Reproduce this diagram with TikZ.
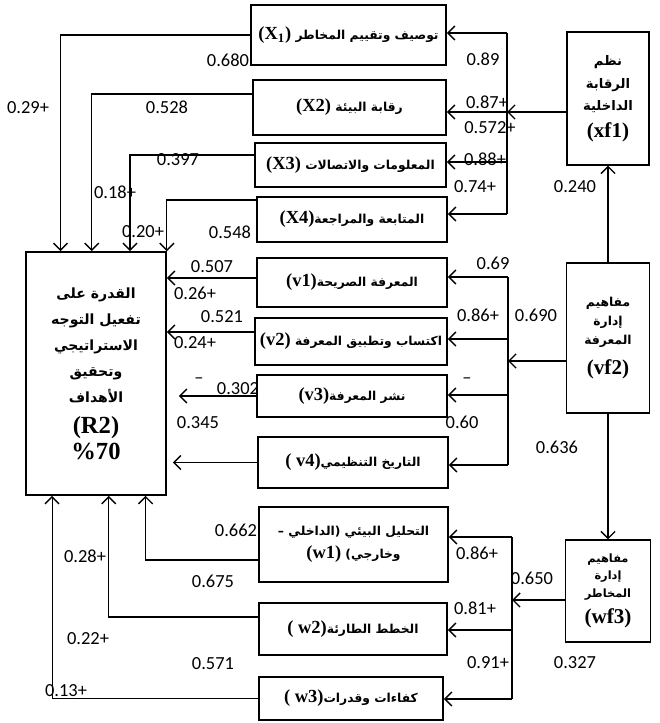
\documentclass[tikz,border=0pt]{standalone}
\usepackage{fontspec}
\setmainfont{Liberation Serif}
\newfontfamily\arabicfont[Script=Arabic]{DejaVu Sans}
\newfontfamily\numfont{Carlito}
\usetikzlibrary{arrows.meta,calc}
\TeXXeTstate=1
\newcommand{\artxt}[1]{{\arabicfont\bfseries\beginR #1\endR}}
\newcommand{\lattxt}[1]{\beginL{\rmfamily\bfseries\fontsize{10.5}{12}\selectfont #1}\endL}

\begin{document}
\begin{tikzpicture}[x=0.02cm, y=-0.02cm,
	box/.style={draw, line width=1pt, inner sep=1pt, align=center, font=\fontsize{7}{11}\selectfont},
	side/.style={box, line width=0.6pt, minimum width=1.64cm},
	num/.style={font=\numfont\fontsize{10.5}{12}\selectfont, inner sep=0pt},
	link/.style={line width=0.6pt},
	arr/.style={link, -{Straight Barb[length=4pt,width=8pt,line width=0.8pt]}}]

	\useasboundingbox (0,0) rectangle (659,723);

	\node [box, minimum width=2.8cm, minimum height=4.86cm, font=\fontsize{8}{14.8}\selectfont] (R2) at (96,373.5)
		{\artxt{القدرة على}\\ \artxt{تفعيل التوجه}\\ \artxt{الاستراتيجي}\\ \artxt{وتحقيق}\\ \artxt{الأهداف}\\[3pt]
		{\bfseries\fontsize{14}{16}\selectfont (R2)}\\ {\bfseries\fontsize{14}{16}\selectfont \%70}};

	\node [box, minimum width=3.9cm, minimum height=1.2cm] (X1) at (348.5,35) {\artxt{توصيف وتقييم المخاطر \lattxt{(X\textsubscript{1})}}};
	\node [box, minimum width=3.86cm, minimum height=1.1cm] (X2) at (349.5,107.5) {\artxt{رقابة البيئة \lattxt{(X2)}}};
	\node [box, minimum width=3.82cm, minimum height=0.88cm] (X3) at (350.5,165) {\artxt{المعلومات والاتصالات \lattxt{(X3)}}};
	\node [box, minimum width=3.8cm, minimum height=0.9cm] (X4) at (352,219.5) {\artxt{المتابعة والمراجعة\lattxt{(X4)}}};
	\node [box, minimum width=3.8cm, minimum height=0.98cm] (v1) at (352,282.5) {\artxt{المعرفة الصريحة\lattxt{(v1)}}};
	\node [box, minimum width=3.84cm, minimum height=0.94cm] (v2) at (351,341.5) {\artxt{اكتساب وتطبيق المعرفة \lattxt{(v2)}}};
	\node [box, minimum width=3.8cm, minimum height=0.84cm] (v3) at (352,396) {\artxt{نشر المعرفة\lattxt{(v3)}}};
	\node [box, minimum width=3.8cm, minimum height=1.02cm] (v4) at (353,462.5) {\artxt{التاريخ التنظيمي\lattxt{( v4)}}};
	\node [box, minimum width=3.78cm, minimum height=1.5cm] (w1) at (353.5,544.5) {\artxt{التحليل البيئي (الداخلي –}\\[2pt] \artxt{وخارجي) \lattxt{(w1)}}};
	\node [box, minimum width=3.76cm, minimum height=1.04cm] (w2) at (353,629) {\artxt{الخطط الطارئة\lattxt{( w2)}}};
	\node [box, minimum width=3.68cm, minimum height=0.86cm] (w3) at (351,698.5) {\artxt{كفاءات وقدرات\lattxt{( w3)}}};

	\node [side, minimum height=2.66cm, font=\fontsize{7.5}{13}\selectfont] (xf1) at (608,98.5)
		{\artxt{نظم}\\ \artxt{الرقابة}\\ \artxt{الداخلية}\\[2pt] {\bfseries\fontsize{12}{13}\selectfont (xf1)}};
	\node [side, minimum width=1.66cm, minimum height=3cm, font=\fontsize{7}{11}\selectfont] (vf2) at (608,338)
		{\artxt{مفاهيم}\\ \artxt{إدارة}\\ \artxt{المعرفة}\\[6pt] {\bfseries\fontsize{12}{13}\selectfont (vf2)}};
	\node [side, minimum width=1.7cm, minimum height=2.04cm, font=\fontsize{6.5}{10}\selectfont] (wf3) at (608,591)
		{\artxt{مفاهيم}\\ \artxt{إدارة}\\ \artxt{المخاطر}\\[4pt] {\bfseries\fontsize{12}{13}\selectfont (wf3)}};

	\coordinate (bx1) at (507,33);
	\coordinate (bx2) at (507,112);
	\coordinate (bx3) at (507,162);
	\coordinate (bx4) at (507,214);
	\coordinate (bv1) at (508,277);
	\coordinate (bvin) at (508,361);
	\coordinate (bv2) at (508,339);
	\coordinate (bv3) at (508,395);
	\coordinate (bv4) at (508,465);
	\coordinate (bw1) at (512,537);
	\coordinate (bwin) at (512,600);
	\coordinate (bw2) at (512,630);
	\coordinate (bw3) at (512,699);

	\draw [link] (bx1) -- (bx4);
	\draw [link] (bv1) -- (bv4);
	\draw [link] (bw1) -- (bw3);

	\draw [arr] (xf1.west |- bx2) -- (bx2);
	\draw [arr] (vf2.west |- bvin) -- (bvin);
	\draw [arr] (wf3.west |- bwin) -- (bwin);
	\draw [arr] (vf2.north) -- (xf1.south);
	\draw [arr] (vf2.south) -- (wf3.north);

	\foreach \b/\n in {bx1/X1, bx2/X2, bx3/X3, bx4/X4, bv1/v1, bv2/v2, bv3/v3, bv4/v4, bw1/w1, bw2/w2, bw3/w3}
		\draw [arr] (\b) -- (\n.east |- \b);

	\draw [arr] (X1.west) -| ($(R2.north west)!0.25!(R2.north east)$);
	\draw [arr] ([yshift=0.27cm]X2.west) -| ($(R2.north west)!0.47!(R2.north east)$);
	\draw [arr] ([yshift=0.2cm]X3.west) -| ($(R2.north west)!0.74!(R2.north east)$);
	\draw [arr] ([yshift=0.39cm]X4.west) -| (R2.north east);

	\coordinate (v1o) at ([yshift=0.09cm]v1.west);
	\coordinate (v2o) at ([yshift=0.19cm]v2.west);
	\draw [arr] (v1o) -- (R2.east |- v1o);
	\draw [arr] (v2o) -- (R2.east |- v2o);
	\draw [arr] (v3) -- ([xshift=0.24cm]R2.east |- v3);
	\draw [arr] (v4) -- ([xshift=0.12cm]R2.east |- v4);

	\draw [arr] ([yshift=-0.31cm]w1.west) -| ($(R2.south west)!0.85!(R2.south east)$);
	\draw [arr] ([yshift=0.24cm]w2.west) -| ($(R2.south west)!0.59!(R2.south east)$);
	\draw [arr] (w3.west) -| ($(R2.south west)!0.19!(R2.south east)$);

	\foreach \x/\y/\t [count=\i] in {228/60/0.680, 28/108/0.29+, 167/107/0.528, 178/160/0.397, 115/192/0.18+,
			143/232/0.20+, 230/232/0.548, 212/267/0.507, 195/293/0.26+, 222/317/0.521, 195/343/0.24+,
			238/389/0.302, 199/381/\textendash, 198/423/0.345, 236/530/0.662, 213/581/0.675, 85/556/0.28+,
			88/639/0.22+, 213/664/0.571, 66/691/0.13+,
			483/59/0.89, 487/102/0.87+, 490/128/0.572+, 485/159/0.88+, 475/187/0.74+, 575/187/0.240,
			493/263/0.69, 478/315/0.86+, 536/315/0.690, 467/381/\textendash, 462/422/0.60, 557/447/0.636,
			477/553/0.86+, 532/578/0.650, 475/608/0.81+, 488/663/0.91+, 575/663/0.327}
		\node [num] (lab\i) at (\x,\y) {\t};

\end{tikzpicture}
\end{document}
